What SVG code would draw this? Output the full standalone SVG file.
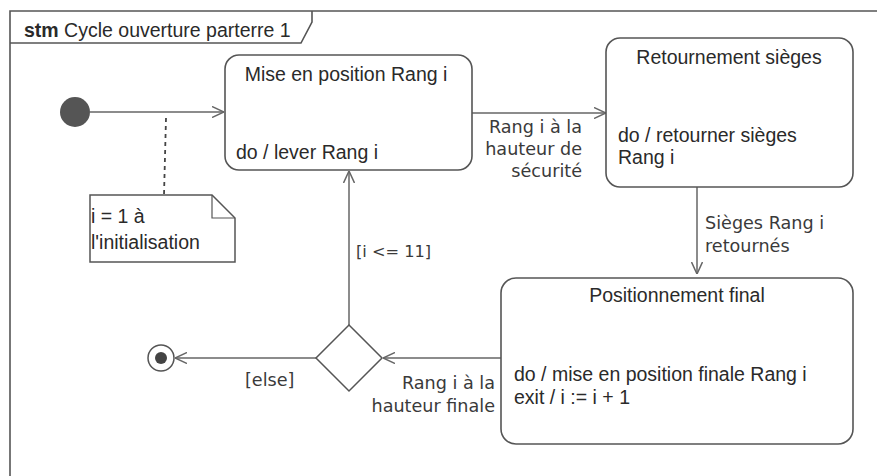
<svg xmlns="http://www.w3.org/2000/svg" width="877" height="476" viewBox="0 0 877 476">
<style>
  .frame { fill: none; stroke: #555; stroke-width: 1.6; }
  .state { fill: #fff; stroke: #555; stroke-width: 1.6; }
  .edge { fill: none; stroke: #666; stroke-width: 1.5; }
  .st { font-family: "Liberation Sans", Arial, sans-serif; font-size: 19.5px; fill: #2a2a2a; }
  .lbl { font-family: "DejaVu Sans", "Open Sans", sans-serif; font-size: 17.6px; fill: #3a3a3a; }
  .guard { font-size: 16.2px; }
  .mid { text-anchor: middle; }
  .end { text-anchor: end; }
</style>
<defs>
  <marker id="open" viewBox="0 0 12 12" refX="12" refY="6" markerWidth="12" markerHeight="12" markerUnits="userSpaceOnUse" orient="auto">
    <path d="M0,0.5 L12,6 L0,11.5" fill="none" stroke="#666" stroke-width="1.5"/>
  </marker>
</defs>
<rect width="877" height="476" fill="#fff"/>
<g id="frame">
  <path class="frame" d="M10,490 L10,11 L880,11"/>
  <path class="frame" d="M10,43 L301,43 L312,22 L312,11"/>
  <text x="24" y="37" class="st"><tspan font-weight="bold">stm</tspan> Cycle ouverture parterre 1</text>
</g>
<g id="connectors">
  <line class="edge" x1="90" y1="112" x2="224" y2="112" marker-end="url(#open)"/>
  <line x1="166" y1="118" x2="164" y2="195" stroke="#444" stroke-width="1.8" stroke-dasharray="4,4"/>
  <line class="edge" x1="472" y1="113" x2="606" y2="113" marker-end="url(#open)"/>
  <line class="edge" x1="697" y1="187" x2="697" y2="274" marker-end="url(#open)"/>
  <line class="edge" x1="501" y1="358" x2="383" y2="358" marker-end="url(#open)"/>
  <line class="edge" x1="349" y1="325" x2="349" y2="171" marker-end="url(#open)"/>
  <line class="edge" x1="316" y1="358" x2="175" y2="358" marker-end="url(#open)"/>
  <text class="lbl end" x="582" y="133">Rang i à la</text>
  <text class="lbl end" x="582" y="155">hauteur de</text>
  <text class="lbl end" x="582" y="177">sécurité</text>
  <text class="lbl" x="705" y="229">Sièges Rang i</text>
  <text class="lbl" x="705" y="252">retournés</text>
  <text class="lbl guard" x="356" y="257">[i &lt;= 11]</text>
  <text class="lbl" x="245" y="386">[else]</text>
  <text class="lbl end" x="495" y="389">Rang i à la</text>
  <text class="lbl end" x="495" y="412">hauteur finale</text>
</g>
<g id="initial">
  <circle cx="75" cy="112" r="15" fill="#555"/>
</g>
<g id="note">
  <path d="M90,195 L212,195 L235,218 L235,262 L90,262 Z" fill="#fff" stroke="#555" stroke-width="1.5"/>
  <path d="M212,195 L212,218 L235,218" fill="none" stroke="#555" stroke-width="1.2"/>
  <text class="st" x="91" y="223">i = 1 à</text>
  <text class="st" x="91" y="249">l'initialisation</text>
</g>
<g id="mise-en-position">
  <rect class="state" x="225" y="55" width="247" height="115" rx="14"/>
  <text class="st mid" x="346" y="81">Mise en position Rang i</text>
  <text class="st" x="236" y="159">do / lever Rang i</text>
</g>
<g id="retournement">
  <rect class="state" x="606" y="38" width="247" height="149" rx="14"/>
  <text class="st mid" x="729" y="64">Retournement sièges</text>
  <text class="st" x="618" y="142">do / retourner sièges</text>
  <text class="st" x="618" y="164">Rang i</text>
</g>
<g id="positionnement">
  <rect class="state" x="501" y="278" width="352" height="166" rx="15"/>
  <text class="st mid" x="677" y="302">Positionnement final</text>
  <text class="st" x="514" y="381">do / mise en position finale Rang i</text>
  <text class="st" x="514" y="404">exit / i := i + 1</text>
</g>
<g id="decision">
  <polygon points="349,325 382,358 349,391 316,358" fill="#fff" stroke="#555" stroke-width="1.5"/>
</g>
<g id="final">
  <circle cx="161" cy="358" r="13" fill="#fff" stroke="#555" stroke-width="1.5"/>
  <circle cx="161" cy="358" r="6" fill="#444"/>
</g>
</svg>
